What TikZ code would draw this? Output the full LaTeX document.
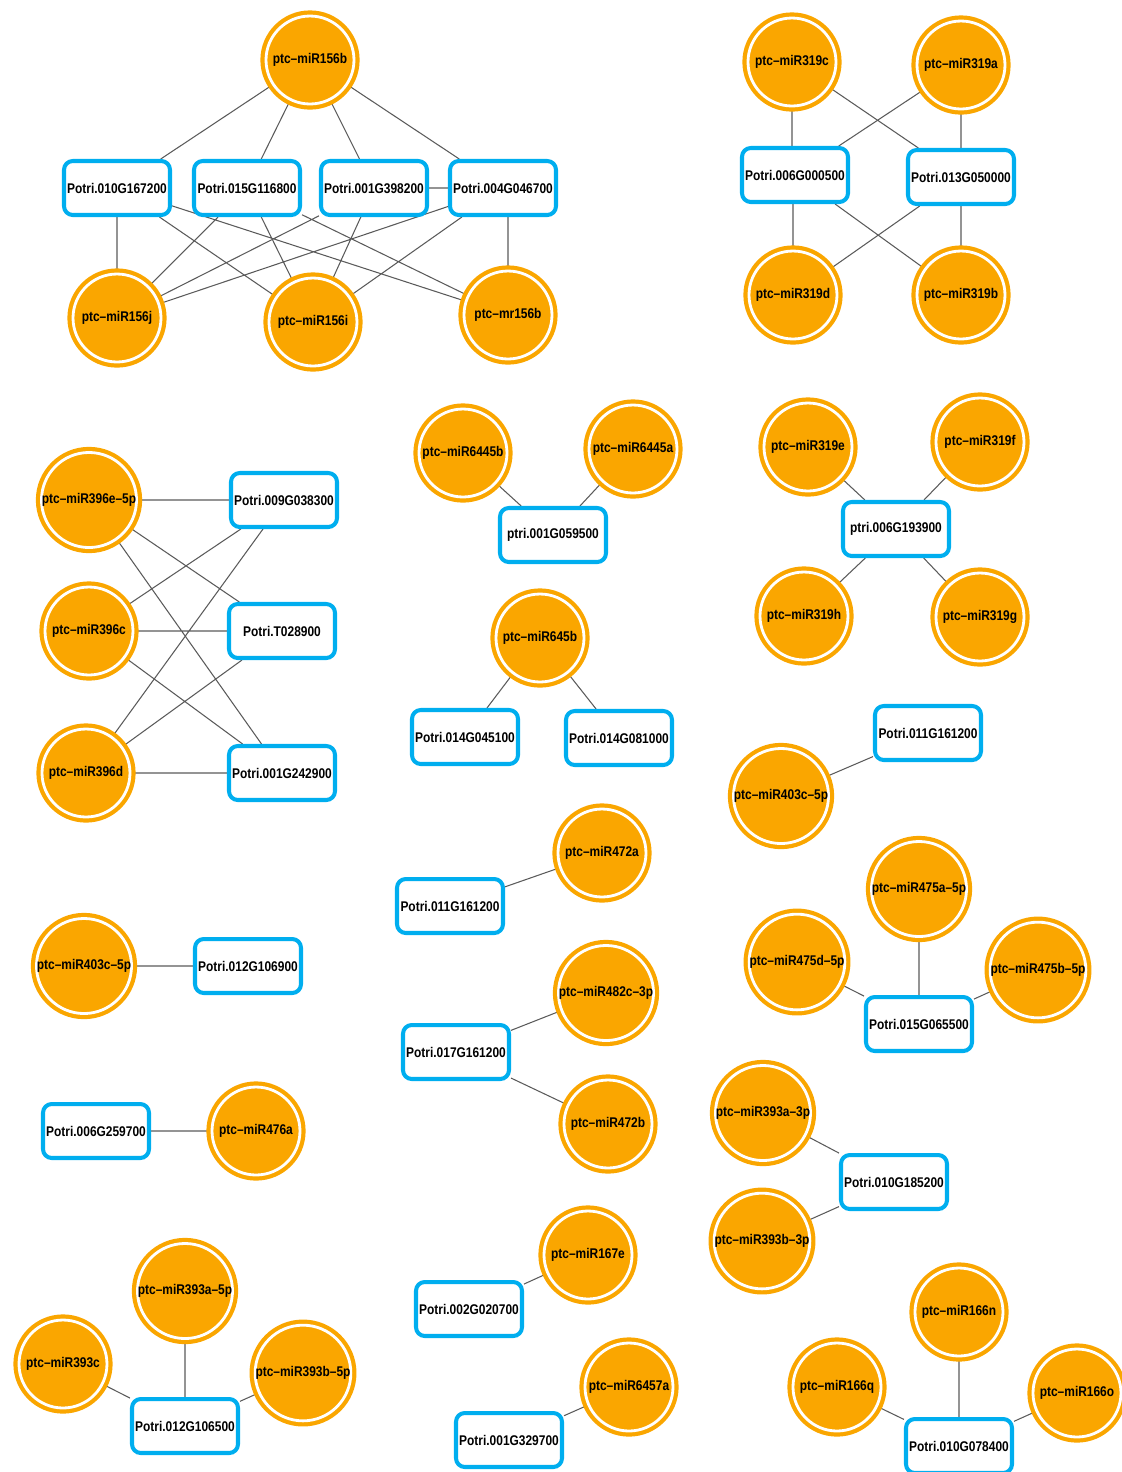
\documentclass[tikz,border=0pt]{standalone}
\usepackage{fontspec}
\setmainfont{Liberation Sans}[FakeStretch=0.85]
\definecolor{mirorange}{RGB}{250,166,0}
\definecolor{genecyan}{RGB}{0,174,239}
\definecolor{edgegray}{RGB}{90,90,90}
\pgfdeclarelayer{bg}
\pgfsetlayers{bg,main}
\tikzset{
  mir/.style={circle, fill=mirorange, draw=mirorange, double=white, double distance=1.6pt,
    line width=2.4pt, minimum size=1.76cm, inner sep=0pt, text=black,
    font=\bfseries\fontsize{8}{9}\selectfont},
  gene/.style={rectangle, rounded corners=5pt, draw=genecyan, line width=2.3pt, fill=white,
    minimum width=2.12cm, minimum height=1.08cm, inner sep=0pt, text=black,
    font=\bfseries\fontsize{8}{9}\selectfont},
  link/.style={draw=edgegray, line width=0.6pt}
}
\begin{document}
\begin{tikzpicture}[x=0.02cm, y=-0.02cm]
\useasboundingbox (0,0) rectangle (1122,1472);
% ---- group 1
\node[mir]  (m156b) at (310,60)  {ptc–miR156b};
\node[gene] (g010a) at (117,188) {Potri.010G167200};
\node[gene] (g015a) at (247,188) {Potri.015G116800};
\node[gene] (g001a) at (374,188) {Potri.001G398200};
\node[gene] (g004a) at (503,188) {Potri.004G046700};
\node[mir]  (m156j) at (117,318) {ptc–miR156j};
\node[mir]  (m156i) at (313,322) {ptc–miR156i};
\node[mir]  (mr156b) at (508,315) {ptc–mr156b};
% ---- group 2
\node[mir]  (m319c) at (792,62)  {ptc–miR319c};
\node[mir]  (m319a) at (961,65)  {ptc–miR319a};
\node[gene] (g006a) at (795,175) {Potri.006G000500};
\node[gene] (g013a) at (961,177) {Potri.013G050000};
\node[mir]  (m319d) at (793,295) {ptc–miR319d};
\node[mir]  (m319b) at (961,295) {ptc–miR319b};
% ---- group 3
\node[mir]  (m396e) at (89,500)  {ptc–miR396e–5p};
\node[mir]  (m396c) at (89,631)  {ptc–miR396c};
\node[mir]  (m396d) at (86,773)  {ptc–miR396d};
\node[gene] (g009a) at (284,500) {Potri.009G038300};
\node[gene] (gT028) at (282,631) {Potri.T028900};
\node[gene] (g001b) at (282,773) {Potri.001G242900};
% ---- group 4
\node[mir]  (m6445b) at (463,453) {ptc–miR6445b};
\node[mir]  (m6445a) at (633,449) {ptc–miR6445a};
\node[gene] (g001c) at (553,535) {ptri.001G059500};
% ---- group 5
\node[mir]  (m645b) at (540,638) {ptc–miR645b};
\node[gene] (g014a) at (465,737) {Potri.014G045100};
\node[gene] (g014b) at (619,738) {Potri.014G081000};
% ---- group 6
\node[mir]  (m319e) at (808,447) {ptc–miR319e};
\node[mir]  (m319f) at (980,442) {ptc–miR319f};
\node[gene] (g006b) at (896,529) {ptri.006G193900};
\node[mir]  (m319h) at (804,616) {ptc–miR319h};
\node[mir]  (m319g) at (980,617) {ptc–miR319g};
% ---- group 7
\node[gene] (g011a) at (928,733) {Potri.011G161200};
\node[mir]  (m403a) at (781,796) {ptc–miR403c–5p};
% ---- group 8
\node[mir]  (m403b) at (84,966)  {ptc–miR403c–5p};
\node[gene] (g012a) at (248,966) {Potri.012G106900};
% ---- group 9
\node[gene] (g006c) at (96,1131) {Potri.006G259700};
\node[mir]  (m476a) at (256,1131) {ptc–miR476a};
% ---- group 10
\node[gene] (g011b) at (450,906) {Potri.011G161200};
\node[mir]  (m472a) at (602,853) {ptc–miR472a};
% ---- group 11
\node[gene] (g017a) at (456,1052) {Potri.017G161200};
\node[mir]  (m482c) at (606,993)  {ptc–miR482c–3p};
\node[mir]  (m472b) at (608,1124) {ptc–miR472b};
% ---- group 12
\node[mir]  (m475a) at (919,889)  {ptc–miR475a–5p};
\node[mir]  (m475d) at (797,962)  {ptc–miR475d–5p};
\node[mir]  (m475b) at (1038,970) {ptc–miR475b–5p};
\node[gene] (g015b) at (919,1024) {Potri.015G065500};
% ---- group 13
\node[mir]  (m393a3) at (763,1113) {ptc–miR393a–3p};
\node[mir]  (m393b3) at (762,1241) {ptc–miR393b–3p};
\node[gene] (g010b) at (894,1182)  {Potri.010G185200};
% ---- group 14
\node[mir]  (m393a5) at (185,1291) {ptc–miR393a–5p};
\node[mir]  (m393c)  at (63,1364)  {ptc–miR393c};
\node[mir]  (m393b5) at (303,1373) {ptc–miR393b–5p};
\node[gene] (g012b)  at (185,1426) {Potri.012G106500};
% ---- group 15
\node[gene] (g002a) at (469,1309) {Potri.002G020700};
\node[mir]  (m167e) at (588,1255) {ptc–miR167e};
% ---- group 16
\node[gene] (g001d) at (509,1440) {Potri.001G329700};
\node[mir]  (m6457a) at (629,1387) {ptc–miR6457a};
% ---- group 17
\node[mir]  (m166n) at (959,1312)  {ptc–miR166n};
\node[mir]  (m166q) at (837,1387)  {ptc–miR166q};
\node[mir]  (m166o) at (1077,1393) {ptc–miR166o};
\node[gene] (g010c) at (959,1446)  {Potri.010G078400};

\begin{pgfonlayer}{bg}
\path[link]
  (m156b) -- (g010a)  (m156b) -- (g015a)  (m156b) -- (g001a)  (m156b) -- (g004a)
  (g001a) -- (g004a)
  (g010a) -- (m156j)  (g010a) -- (m156i)  (g010a) -- (mr156b)
  (g015a) -- (m156j)  (g015a) -- (m156i)  (g015a) -- (mr156b)
  (g001a) -- (m156j)  (g001a) -- (m156i)
  (g004a) -- (m156j)  (g004a) -- (m156i)
  (g004a.south -| mr156b) -- (mr156b)
  (m319c) -- (g006a.north -| m319c)  (m319c) -- (g013a)  (m319a) -- (g006a)  (m319a) -- (g013a)
  (g006a.south -| m319d) -- (m319d)  (g006a) -- (m319b)  (g013a) -- (m319d)  (g013a) -- (m319b)
  (m396e) -- (g009a)  (m396e) -- (gT028)  (m396e) -- (g001b)
  (m396c) -- (g009a)  (m396c) -- (gT028)  (m396c) -- (g001b)
  (m396d) -- (g009a)  (m396d) -- (gT028)  (m396d) -- (g001b)
  (m6445b) -- (g001c)  (m6445a) -- (g001c)
  (m645b) -- (g014a)  (m645b) -- (g014b)
  (m319e) -- (g006b)  (m319f) -- (g006b)  (m319h) -- (g006b)  (m319g) -- (g006b)
  (m403a) -- (g011a)
  (m403b) -- (g012a)
  (g006c) -- (m476a)
  (g011b) -- (m472a)
  (g017a) -- (m482c)  (g017a) -- (m472b)
  (m475a) -- (g015b)  (m475d) -- (g015b)  (m475b) -- (g015b)
  (m393a3) -- (g010b)  (m393b3) -- (g010b)
  (m393a5) -- (g012b)  (m393c) -- (g012b)  (m393b5) -- (g012b)
  (g002a) -- (m167e)
  (g001d) -- (m6457a)
  (m166n) -- (g010c)  (m166q) -- (g010c)  (m166o) -- (g010c);
\end{pgfonlayer}
\end{tikzpicture}
\end{document}
